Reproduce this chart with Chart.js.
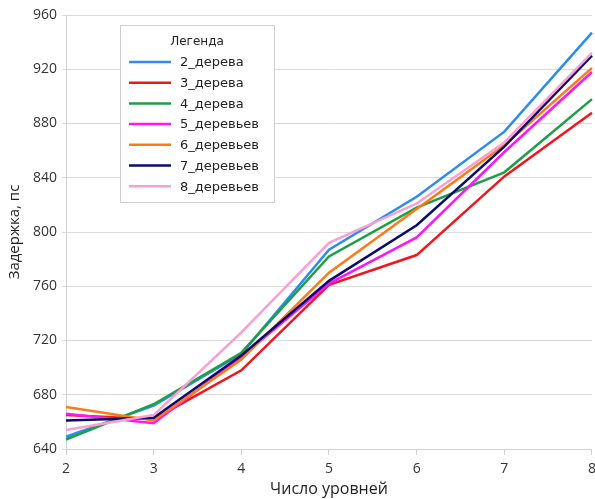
<!DOCTYPE html>
<html>
<head>
<meta charset="utf-8">
<script src="https://cdn.jsdelivr.net/npm/chart.js@4/dist/chart.umd.min.js"></script>
<style>
  html, body { margin: 0; padding: 0; background: #fff; overflow: hidden; width: 595px; height: 499px; }
  #wrap { width: 602px; height: 499px; }
</style>
</head>
<body>
<div id="wrap"><canvas id="delayChart"></canvas></div>
<script>
// Data
const levels = ['2', '3', '4', '5', '6', '7', '8'];
const seriesNames = ['2_дерева', '3_дерева', '4_дерева', '5_деревьев', '6_деревьев', '7_деревьев', '8_деревьев'];
const trees2 = [649, 672, 710, 787, 826, 874, 947];
const trees3 = [665, 662, 698, 761, 783, 841, 888];
const trees4 = [647, 673, 711, 782, 818, 844, 898];
const trees5 = [666, 659, 708, 762, 796, 859, 918];
const trees6 = [671, 661, 706, 770, 817, 864, 921];
const trees7 = [661, 663, 709, 764, 805, 863, 930];
const trees8 = [654, 665, 726, 792, 821, 866, 932];
const yTicks = [640, 680, 720, 760, 800, 840, 880, 920, 960];

const seriesData = [trees2, trees3, trees4, trees5, trees6, trees7, trees8];
const colors = ['#2b8cf0', '#f5141c', '#1f9e48', '#ff14ff', '#ff7a14', '#0c0c6c', '#fb9fd2'];

// Legend box drawn inside the plot, like the original
const boxLegend = {
    id: 'boxLegend',
    afterDraw(chart) {
        const ctx = chart.ctx;
        const x0 = 120, y0 = 25, w = 154, h = 177;
        ctx.save();
        ctx.fillStyle = '#ffffff';
        ctx.fillRect(x0, y0, w, h);
        ctx.strokeStyle = '#cfcfcf';
        ctx.lineWidth = 1;
        ctx.strokeRect(x0 + 0.5, y0 + 0.5, w, h);
        ctx.fillStyle = '#222';
        ctx.textBaseline = 'middle';
        ctx.textAlign = 'center';
        ctx.font = '12px "DejaVu Sans"';
        ctx.fillText('Легенда', 197, 42);
        ctx.textAlign = 'left';
        ctx.font = '13px "DejaVu Sans"';
        chart.data.datasets.forEach((ds, i) => {
            const y = 62 + i * 20.7;
            ctx.strokeStyle = ds.borderColor;
            ctx.lineWidth = 2.5;
            ctx.beginPath();
            ctx.moveTo(129, y);
            ctx.lineTo(171, y);
            ctx.stroke();
            ctx.fillText(ds.label, 180, y + 1);
        });
        ctx.restore();
    }
};

const ctx = document.getElementById('delayChart').getContext('2d');
new Chart(ctx, {
    type: 'line',
    data: {
        labels: levels,
        datasets: seriesNames.map((name, i) => ({
            label: name,
            data: seriesData[i],
            borderColor: colors[i],
            backgroundColor: colors[i],
            borderWidth: 2.5,
            pointRadius: 0,
            tension: 0,
            order: seriesNames.length - i
        }))
    },
    options: {
        responsive: true,
        maintainAspectRatio: false,
        animation: false,
        layout: { padding: { top: 15, right: 0, left: 6, bottom: 0 } },
        plugins: {
            legend: { display: false },
            tooltip: { enabled: false }
        },
        scales: {
            x: {
                offset: false,
                grid: { display: true, drawOnChartArea: false, color: '#d0d0d0', tickLength: 6 },
                border: { color: '#d0d0d0' },
                ticks: { color: '#333', font: { family: 'Open Sans', size: 14 }, padding: 6, maxRotation: 0 },
                title: { display: true, text: 'Число уровней', color: '#222', font: { family: 'Open Sans', size: 16 }, padding: { top: -2, bottom: 0 } },
                afterFit: s => { s.height = 50; }
            },
            y: {
                min: yTicks[0],
                max: yTicks[yTicks.length - 1],
                afterBuildTicks: s => { s.ticks = yTicks.map(v => ({ value: v })); },
                grid: { color: '#dcdcdc', tickLength: 4 },
                border: { color: '#d0d0d0' },
                ticks: { color: '#333', font: { family: 'Open Sans', size: 14 }, padding: 5 },
                title: { display: true, text: 'Задержка, пс', color: '#222', font: { family: 'Open Sans', size: 15 }, padding: { top: 0, bottom: 4 } },
                afterFit: s => { s.width = 60; }
            }
        }
    },
    plugins: [boxLegend]
});
</script>
</body>
</html>
